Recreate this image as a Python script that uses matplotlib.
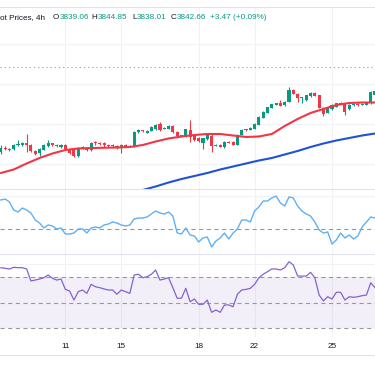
import matplotlib
matplotlib.use("Agg")
import matplotlib.pyplot as plt
import numpy as np
from matplotlib.lines import Line2D

plt.rcParams['font.family'] = ['Liberation Sans', 'DejaVu Sans']
plt.rcParams['lines.scale_dashes'] = False

# ---------------- data ----------------
opens = [3782, 3786, 3784.5, 3785, 3788.5, 3788.5, 3790.5, 3788.5, 3783, 3780.5,
         3784, 3788, 3790.5, 3789, 3787, 3789, 3784, 3783.5, 3777.5, 3785,
         3786, 3784, 3792, 3790.5, 3790.5, 3789, 3787.5, 3788, 3785.5, 3788.5,
         3787, 3787.5, 3801.5, 3803.5, 3801, 3803, 3804.5, 3809.5, 3805, 3805,
         3808, 3802, 3797.5, 3798, 3804, 3797.5, 3796, 3791, 3794.5, 3798,
         3788, 3789, 3786.5, 3792, 3792, 3789, 3799, 3804.5, 3804, 3805,
         3809, 3816, 3821, 3826, 3829, 3831, 3828.5, 3832, 3843.5, 3840,
         3835.5, 3834, 3837.5, 3841, 3838.5, 3826, 3821, 3824.5, 3827, 3830.5,
         3830.5, 3824.5, 3829, 3830, 3829, 3829, 3831, 3839.06]
highs = [3789, 3787.5, 3785.5, 3790, 3794, 3791.5, 3800, 3789.5, 3784, 3785.5,
         3789.5, 3794, 3791, 3790, 3790, 3790, 3785, 3784.5, 3786.5, 3788,
         3787, 3792, 3793, 3791.5, 3792, 3790, 3789.5, 3789, 3790, 3789.5,
         3788.5, 3803, 3804.5, 3804, 3804, 3808, 3810, 3811.5, 3806.5, 3808.5,
         3808.5, 3802.5, 3799, 3805, 3814, 3798.5, 3797, 3796, 3800, 3799.5,
         3789.5, 3789.5, 3793, 3793, 3792.5, 3799.5, 3805, 3805, 3806.5, 3810.5,
         3818, 3823, 3827, 3830, 3831, 3834, 3832.5, 3847, 3844.5, 3841,
         3837, 3839, 3841.5, 3842, 3839, 3826.5, 3827, 3830, 3831, 3831.5,
         3831, 3829.5, 3831, 3830.5, 3831, 3831.5, 3843, 3844.85]
lows = [3780, 3783.5, 3783, 3784, 3788, 3787.5, 3781.5, 3781.5, 3779, 3778,
        3783.5, 3787, 3787.5, 3786.5, 3786, 3784, 3780, 3776.5, 3777, 3784.5,
        3783, 3783, 3789, 3788.5, 3787, 3787, 3787, 3785, 3781, 3786.5,
        3786.5, 3786.5, 3801, 3802, 3800.5, 3802.5, 3804, 3803, 3804.5, 3804.5,
        3801, 3796, 3797, 3797, 3791.5, 3793, 3791.5, 3785, 3793.5, 3781.5,
        3787.5, 3786.5, 3785.5, 3790.5, 3788.5, 3788.5, 3798.5, 3803, 3803.5, 3804.5,
        3808.5, 3815.5, 3820.5, 3825.5, 3828.5, 3827.5, 3828, 3831.5, 3839.5, 3831.5,
        3831, 3833, 3837, 3837.5, 3825.5, 3818, 3820.5, 3824, 3826.5, 3829.5,
        3819, 3824, 3828, 3828, 3828.5, 3828.5, 3830, 3838.01]
closes = [3786, 3784.5, 3784, 3789, 3789.5, 3790.5, 3788.5, 3782.5, 3780, 3784.5,
          3788.5, 3791, 3788.5, 3787.5, 3789, 3785, 3781, 3777.5, 3785.5, 3787,
          3783.5, 3791, 3790.5, 3789.5, 3788.5, 3788, 3788.5, 3786, 3789, 3787,
          3788, 3802, 3803.5, 3802.5, 3803, 3807, 3809, 3803.5, 3806, 3808,
          3801.5, 3797.5, 3798.5, 3804.5, 3797, 3794, 3792.5, 3795.5, 3799, 3787.5,
          3789, 3787, 3792, 3791, 3789, 3799, 3804, 3803.5, 3805.5, 3810,
          3817, 3822, 3826.5, 3829.5, 3830.5, 3828, 3832, 3844, 3840, 3835.5,
          3836.5, 3838.5, 3841, 3838, 3826, 3820, 3826.5, 3829, 3830.5, 3830,
          3822, 3829, 3830, 3829, 3830, 3831, 3842, 3842.66]

ema_idx = [0, 3, 6, 9, 12, 15, 18, 21, 24, 27, 30, 33, 36, 39, 42, 45, 48, 51, 54, 57,
           60, 63, 66, 69, 72, 75, 78, 81, 84, 87]
ema_val = [3761, 3764.5, 3770.5, 3776, 3780.5, 3784, 3785.5, 3786, 3786.2, 3786.5,
           3787, 3789, 3792.5, 3795.5, 3797.5, 3799, 3800, 3800, 3798.5, 3797,
           3797.5, 3800, 3808, 3815, 3821, 3825, 3829, 3831, 3831.5, 3831.5]

sma_idx = [27, 30, 33, 36, 39, 42, 45, 48, 51, 54, 57, 60, 63, 66, 69, 72, 75, 78, 81, 84, 87]
sma_val = [3737, 3740.5, 3744, 3747.5, 3751.5, 3755, 3758, 3761, 3764.5, 3767.5, 3770.5,
           3773.5, 3776, 3779.5, 3783, 3787, 3790.5, 3793.5, 3796, 3798.5, 3800.5]

osc = [29, 30, 27, 19, 17, 21, 19, 16, 9, 6,
       1, 4, 3, 0, 1, -5, -5, -4, 0, 0,
       -4, 1, 2, 1, 4, 5, 7, 6, 4, 3,
       4, 10, 11, 11, 12, 15, 18, 16, 15, 17,
       13, -4, -5, 1, -6, -7, -13, -9, -8, -18,
       -12, -9, -4, -10, -4, 0, 9, 9, 7, 18,
       22, 28, 28, 31, 33, 26, 23, 32, 31, 23,
       18, 15, 13, 7, -1, -4, -3, -15, -11, -4,
       -9, -6, -10, -7, 2, 7, 12, 11]

rsi = [77.0, 76.5, 76.0, 77.3, 77.0, 77.0, 76.0, 66.7, 67.4, 68.2,
       69.2, 71.3, 68.8, 67.4, 68.2, 60.2, 58.9, 51.9, 58.4, 59.7,
       57.1, 64.1, 62.2, 61.5, 60.5, 59.7, 59.7, 56.4, 59.7, 58.4,
       57.1, 71.3, 71.9, 69.2, 70.0, 71.9, 75.2, 67.4, 68.2, 69.2,
       61.5, 53.3, 53.3, 61.0, 50.6, 52.7, 48.6, 48.6, 51.9, 42.4,
       44.2, 42.4, 48.1, 48.1, 46.7, 56.4, 59.7, 60.2, 61.0, 64.1,
       69.2, 71.9, 73.9, 76.0, 76.0, 75.2, 77.0, 81.6, 79.1, 70.5,
       70.5, 70.5, 73.4, 69.2, 55.8, 51.2, 54.5, 52.7, 57.9, 57.9,
       51.9, 54.5, 54.0, 54.5, 55.3, 55.8, 65.3, 61.5]

tick_idx = [15, 28, 46, 59, 77]
tick_labels = ['11', '15', '18', '22', '25']
price_line = 3867
price_grid = [3770, 3810, 3850, 3890]
osc_grid = [33]
rsi_levels = [70, 50, 30]
rsi_grid = [80]

title_parts = [("ot Prices, 4h", None), ("O", "3839.06"), ("H", "3844.85"),
               ("L", "3838.01"), ("C", "3842.66"), (None, "+3.47 (+0.09%)")]

# ---------------- styling ----------------
W, H = 375, 366
UP, DOWN = '#089981', '#F23645'
GRID = '#f0f2f6'
BORDER = '#e0e3eb'
TXT = '#131722'
XLIM = (-0.19, 86.99)

fig = plt.figure(figsize=(W / 100, H / 100), dpi=100)
fig.patch.set_facecolor('white')


def pane(top_px, bottom_px):
    ax = fig.add_axes([0, 1 - bottom_px / H, 1, (bottom_px - top_px) / H])
    ax.set_xlim(*XLIM)
    ax.set_xticks(tick_idx)
    ax.tick_params(length=0, labelleft=False, labelbottom=False)
    for s in ax.spines.values():
        s.set_visible(False)
    ax.spines['top'].set_visible(True)
    ax.spines['top'].set_color(BORDER)
    ax.spines['top'].set_linewidth(0.8)
    ax.grid(True, color=GRID, linewidth=0.8)
    ax.set_axisbelow(True)
    return ax


# price pane
ax1 = pane(7, 188.5)
ax1.set_ylim(3745.5, 3927)
ax1.set_yticks(price_grid)
x = np.arange(len(opens))
o = np.array(opens); c = np.array(closes)
hi = np.array(highs); lo = np.array(lows)
up = c >= o
cols = np.where(up, UP, DOWN)
ax1.vlines(x, lo, hi, colors=cols, linewidth=0.8, zorder=3)
bottom = np.minimum(o, c)
height = np.maximum(np.abs(c - o), 1.0)
ax1.bar(x, height, bottom=bottom, width=0.72, color=cols, linewidth=0, zorder=4)
ax1.plot(ema_idx, ema_val, color='#F23645', linewidth=1.5, zorder=5, solid_capstyle='round')
ax1.plot(sma_idx, sma_val, color='#2151D9', linewidth=1.5, zorder=5, solid_capstyle='round')
ax1.axhline(price_line, color=UP, alpha=0.55, linewidth=0.8, linestyle=(0, (1, 2)), zorder=2)

# oscillator pane
ax2 = pane(188.5, 254)
ax2.set_ylim(-25, 40.5)
ax2.set_yticks(osc_grid)
ax2.axhline(0, color='#9598a1', linewidth=0.8, linestyle=(0, (3, 2.5)), zorder=2)
ax2.plot(x, osc, color='#5FB0F4', linewidth=1.0, zorder=4)

# RSI pane
ax3 = pane(254, 337)
ax3.set_ylim(23.26, 87.6)
ax3.set_yticks(rsi_grid)
ax3.axhspan(rsi_levels[2], rsi_levels[0], color='#7E57C2', alpha=0.09, linewidth=0, zorder=1)
for lv in rsi_levels:
    ax3.axhline(lv, color='#9598a1', linewidth=0.8, linestyle=(0, (3, 2.5)), zorder=2)
ax3.plot(x, rsi, color='#8463CC', linewidth=0.9, zorder=4)
ax3.set_xticklabels(tick_labels)
ax3.tick_params(labelbottom=True, labelsize=5.9, labelcolor=TXT, pad=4.5)

# bottom border line
fig.add_artist(Line2D([0, 1], [1 - 355 / H, 1 - 355 / H], color=BORDER, linewidth=0.8))

# title / legend line: label then value right after it
ty = 1 - 17.3 / H
fs = 5.9
label_x = [0, 52.7, 91.7, 132.3, 170.7, 210]
renderer = fig.canvas.get_renderer()
for (lab, val), lx in zip(title_parts, label_x):
    vx = lx
    if lab is not None:
        t = fig.text(lx / W, ty, lab, fontsize=fs, color=TXT, ha='left', va='center')
        vx = t.get_window_extent(renderer).x1 + 0.3
    if val is not None:
        fig.text(vx / W, ty, val, fontsize=fs, color=UP, ha='left', va='center')

fig.savefig('out.png', dpi=100, facecolor='white')
